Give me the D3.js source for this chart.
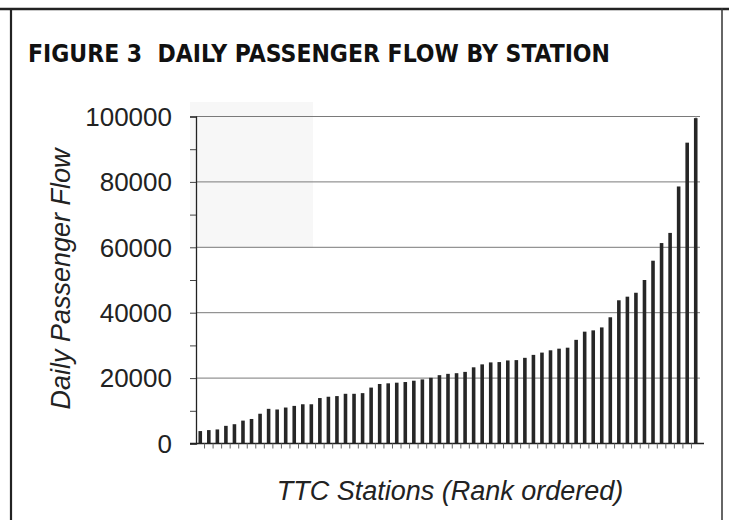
<!DOCTYPE html>
<html>
<head>
<meta charset="utf-8">
<script src="https://cdn.jsdelivr.net/npm/d3@7"></script>
<style>
  body { margin: 0; background: #fff; }
  svg { display: block; }
</style>
</head>
<body>
<svg id="chart" width="729" height="520"></svg>
<script>
// stations in rank order, daily passenger flow
const stations = d3.range(1, 60).map(i => "S" + i);
const flow = [3800, 4100, 4300, 5400, 5900, 7000, 7500, 9100, 10600, 10400,
  11000, 11500, 12000, 12000, 13900, 14300, 14500, 15200, 15200, 15400,
  17100, 18200, 18400, 18600, 18800, 19200, 19600, 20100, 20900, 21300,
  21500, 21900, 23300, 24200, 24800, 24900, 25400, 25500, 26200, 27100,
  27800, 28500, 29000, 29300, 31700, 34200, 34600, 35500, 38600, 43800,
  44900, 46100, 50000, 55900, 61300, 64400, 78600, 92000, 99500];
const yTicks = [0, 20000, 40000, 60000, 80000, 100000];
const minorTicks = d3.range(0, 100001, 10000);

const title = "FIGURE 3  DAILY PASSENGER FLOW BY STATION";
const xTitle = "TTC Stations (Rank ordered)";
const yTitle = "Daily Passenger Flow";

const svg = d3.select("#chart");

const plotL = 196, plotR = 700, plotT = 116.5, plotB = 443.5;

const x = d3.scaleBand()
  .domain(stations)
  .range([plotL, plotR])
  .paddingInner(0.58)
  .paddingOuter(0.29);

const y = d3.scaleLinear()
  .domain([0, 100000])
  .range([plotB, plotT]);

// outer frame of the figure
svg.append("line").attr("x1", 0).attr("x2", 729).attr("y1", 9).attr("y2", 9)
  .attr("stroke", "#222").attr("stroke-width", 2.5);
svg.append("line").attr("x1", 11).attr("x2", 11).attr("y1", 8).attr("y2", 520)
  .attr("stroke", "#222").attr("stroke-width", 2.2);
svg.append("line").attr("x1", 722).attr("x2", 722).attr("y1", 8).attr("y2", 520)
  .attr("stroke", "#333").attr("stroke-width", 1.5);

// faint scan shading in the top-left of the plot
svg.append("rect")
  .attr("x", 190).attr("y", 102).attr("width", 123).attr("height", 146)
  .attr("fill", "#f7f7f7");

svg.append("text")
  .attr("x", 28).attr("y", 62)
  .attr("font-family", "'DejaVu Sans Condensed', 'DejaVu Sans', sans-serif")
  .attr("font-weight", "bold")
  .attr("font-size", 24.5)
  .attr("textLength", 582)
  .attr("lengthAdjust", "spacingAndGlyphs")
  .attr("fill", "#111")
  .attr("xml:space", "preserve")
  .text(title);

// grid
svg.append("g")
  .selectAll("line")
  .data(yTicks.filter(d => d > 0))
  .join("line")
  .attr("x1", plotL).attr("x2", plotR)
  .attr("y1", d => y(d)).attr("y2", d => y(d))
  .attr("stroke", "#7a7a7a").attr("stroke-width", 1);

svg.append("line")
  .attr("x1", plotR - 4).attr("x2", plotR - 4)
  .attr("y1", y(100000)).attr("y2", y(80000))
  .attr("stroke", "#aaa");

// bars
svg.append("g")
  .selectAll("rect")
  .data(flow)
  .join("rect")
  .attr("x", (d, i) => x(stations[i]))
  .attr("width", x.bandwidth())
  .attr("y", d => y(d))
  .attr("height", d => y(0) - y(d))
  .attr("fill", "#262626");

// y axis
const yAxis = svg.append("g")
  .attr("transform", "translate(" + plotL + ",0)")
  .call(d3.axisLeft(y).tickValues(minorTicks).tickSize(6).tickFormat(""));
yAxis.select(".domain").attr("stroke", "#222").attr("stroke-width", 1.3);
yAxis.selectAll(".tick line").attr("stroke", "#444");

svg.append("g")
  .selectAll("text")
  .data(yTicks)
  .join("text")
  .attr("x", 172)
  .attr("y", d => y(d))
  .attr("dy", "0.36em")
  .attr("text-anchor", "end")
  .attr("font-family", "'Liberation Sans', Arial, sans-serif")
  .attr("font-size", 26)
  .attr("fill", "#222")
  .text(d => d);

// x axis with ticks between stations
const xAxis = svg.append("g")
  .attr("transform", "translate(0," + plotB + ")");
xAxis.append("line")
  .attr("x1", plotL - 6).attr("x2", plotR + 4)
  .attr("stroke", "#222").attr("stroke-width", 1.3);
xAxis.selectAll(".xt")
  .data(stations.slice(1))
  .join("line")
  .attr("class", "xt")
  .attr("x1", d => x(d) - x.step() * x.paddingInner() / 2)
  .attr("x2", d => x(d) - x.step() * x.paddingInner() / 2)
  .attr("y1", 0).attr("y2", 5)
  .attr("stroke", "#666");

svg.append("text")
  .attr("x", 450).attr("y", 500)
  .attr("text-anchor", "middle")
  .attr("font-family", "'Liberation Sans', Arial, sans-serif")
  .attr("font-style", "italic")
  .attr("font-size", 27)
  .attr("fill", "#222")
  .text(xTitle);

svg.append("text")
  .attr("transform", "translate(70,279) rotate(-90)")
  .attr("text-anchor", "middle")
  .attr("font-family", "'Liberation Sans', Arial, sans-serif")
  .attr("font-style", "italic")
  .attr("font-size", 27)
  .attr("fill", "#222")
  .text(yTitle);
</script>
</body>
</html>
